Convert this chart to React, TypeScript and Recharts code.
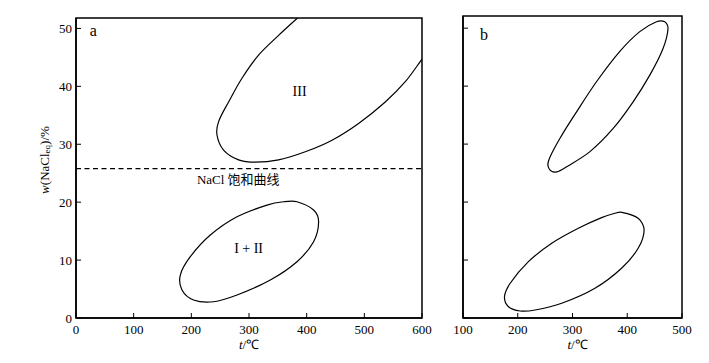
import React from 'react';
import { LineChart, Line, XAxis, YAxis, ReferenceLine, ReferenceArea, ReferenceDot, Label } from 'recharts';

// ---------- data ----------
const tempTicksA = [0, 100, 200, 300, 400, 500, 600];
const tempTicksB = [100, 200, 300, 400, 500];
const salinityTicks = [0, 10, 20, 30, 40, 50];
const naclSaturation = 25.8;

// Panel a — field III (open arc, cut by the frame)
const zoneIII = [
  { t: 384, w: 51.8 }, { t: 351.3, w: 48.8 }, { t: 316.6, w: 45.4 }, { t: 287.8, w: 41.4 },
  { t: 264.6, w: 37.3 }, { t: 247.3, w: 33.9 }, { t: 244.5, w: 31.6 }, { t: 255.9, w: 29.0 },
  { t: 282.0, w: 27.3 }, { t: 310.9, w: 26.9 }, { t: 351.3, w: 27.3 }, { t: 397.6, w: 28.7 },
  { t: 443.9, w: 30.7 }, { t: 490.0, w: 33.6 }, { t: 536.3, w: 37.3 }, { t: 571.0, w: 40.8 },
  { t: 600, w: 44.7 },
];

// Panel a — field I + II
const zoneI_II = [
  { t: 232.9, w: 14.33 }, { t: 279.2, w: 17.48 }, { t: 331.2, w: 19.5 }, { t: 360.0, w: 20.07 },
  { t: 383.2, w: 20.07 }, { t: 412.0, w: 18.64 }, { t: 420.7, w: 16.62 }, { t: 412.0, w: 13.17 },
  { t: 383.2, w: 9.72 }, { t: 336.9, w: 6.56 }, { t: 279.2, w: 3.97 }, { t: 238.6, w: 2.81 },
  { t: 203.9, w: 3.11 }, { t: 183.8, w: 4.83 }, { t: 180.9, w: 7.42 }, { t: 198.2, w: 10.58 },
  { t: 232.9, w: 14.33 },
];

// Panel b — upper field
const bUpper = [
  { t: 307.7, w: 35.6 }, { t: 344.1, w: 40.8 }, { t: 386.5, w: 46.0 }, { t: 422.9, w: 49.4 },
  { t: 453.4, w: 51.1 }, { t: 468.5, w: 51.1 }, { t: 474.5, w: 50.0 }, { t: 465.4, w: 46.5 },
  { t: 441.2, w: 41.9 }, { t: 410.7, w: 37.3 }, { t: 374.3, w: 32.7 }, { t: 331.9, w: 28.7 },
  { t: 289.4, w: 26.1 }, { t: 271.2, w: 25.2 }, { t: 259.0, w: 25.5 }, { t: 255.9, w: 27.0 },
  { t: 277.2, w: 31.0 }, { t: 307.7, w: 35.6 },
];

// Panel b — lower field
const bLower = [
  { t: 262.1, w: 12.89 }, { t: 310.6, w: 15.48 }, { t: 353.2, w: 17.31 }, { t: 377.4, w: 18.07 },
  { t: 389.6, w: 18.24 }, { t: 419.9, w: 17.21 }, { t: 430.8, w: 15.19 }, { t: 419.9, w: 12.03 },
  { t: 389.6, w: 8.58 }, { t: 341.0, w: 5.13 }, { t: 280.3, w: 2.54 }, { t: 231.7, w: 1.38 },
  { t: 204.4, w: 1.21 }, { t: 183.1, w: 1.95 }, { t: 175.8, w: 3.68 }, { t: 186.2, w: 5.99 },
  { t: 219.5, w: 9.72 }, { t: 262.1, w: 12.89 },
];

// ---------- smooth curve through the points (chord-length Catmull-Rom) ----------
function smoothCurve(context: any) {
  let pts: number[][] = [];
  return {
    areaStart() {},
    areaEnd() {},
    lineStart() { pts = []; },
    point(x: number, y: number) { pts.push([+x, +y]); },
    lineEnd() {
      const n0 = pts.length;
      if (n0 === 0) return;
      const first = pts[0];
      const last = pts[n0 - 1];
      const closed = n0 > 3 && Math.hypot(first[0] - last[0], first[1] - last[1]) < 0.5;
      const p = closed ? pts.slice(0, n0 - 1) : pts.slice();
      const n = p.length;
      const get = (i: number) => {
        if (closed) return p[((i % n) + n) % n];
        if (i < 0) return [2 * p[0][0] - p[1][0], 2 * p[0][1] - p[1][1]];
        if (i >= n) return [2 * p[n - 1][0] - p[n - 2][0], 2 * p[n - 1][1] - p[n - 2][1]];
        return p[i];
      };
      const dist = (a: number[], b: number[]) => Math.hypot(a[0] - b[0], a[1] - b[1]) || 1e-6;
      const tangent = (i: number) => {
        const a = get(i - 1), b = get(i), c = get(i + 1);
        const d1 = dist(a, b), d2 = dist(b, c);
        return [(c[0] - a[0]) / (d1 + d2), (c[1] - a[1]) / (d1 + d2)];
      };
      context.moveTo(p[0][0], p[0][1]);
      const segs = closed ? n : n - 1;
      for (let i = 0; i < segs; i++) {
        const a = get(i), b = get(i + 1);
        const d = dist(a, b);
        const ta = tangent(i), tb = tangent(i + 1);
        context.bezierCurveTo(
          a[0] + (ta[0] * d) / 3, a[1] + (ta[1] * d) / 3,
          b[0] - (tb[0] * d) / 3, b[1] - (tb[1] * d) / 3,
          b[0], b[1]
        );
      }
      if (closed) context.closePath();
    },
  };
}

// ---------- styling ----------
const SERIF = '"Liberation Serif", "Times New Roman", serif';
const CJK = '"Liberation Serif", "Noto Sans CJK SC", serif';
const tickStyle = { fontFamily: SERIF, fontSize: 13, fill: '#000' };

const centerText = (value: string, size: number, family: string = SERIF) => (props: any) => {
  const vb = props.viewBox || {};
  const cx = (vb.x || 0) + (vb.width || 0) / 2;
  const cy = (vb.y || 0) + (vb.height || 0) / 2;
  return (
    <text x={cx} y={cy} textAnchor="middle" dominantBaseline="central" fontSize={size} fontFamily={family} fill="#000">
      {value}
    </text>
  );
};

const xAxisLabel = (shift: number) => (props: any) => {
  const vb = props.viewBox || {};
  const cx = vb.x + vb.width / 2 + shift;
  const y = vb.y + 31;
  return (
    <text x={cx} y={y} textAnchor="middle" fontSize={13} fontFamily={SERIF} fill="#000">
      <tspan fontStyle="italic">t</tspan>
      <tspan>/℃</tspan>
    </text>
  );
};

const yAxisLabel = (props: any) => {
  const vb = props.viewBox || {};
  const cx = vb.x + 8;
  const cy = vb.y + vb.height / 2 - 8;
  return (
    <text x={cx} y={cy} transform={`rotate(-90 ${cx} ${cy})`} textAnchor="middle" dominantBaseline="central" fontSize={13} fontFamily={SERIF} fill="#000">
      <tspan fontStyle="italic">w</tspan>
      <tspan>(NaCl</tspan>
      <tspan dy={3} fontSize={9}>eq</tspan>
      <tspan dy={-3}>)/%</tspan>
    </text>
  );
};

const curve = (data: any[], key: string) => (
  <Line
    key={key}
    data={data}
    dataKey="w"
    type={smoothCurve as any}
    stroke="#000"
    strokeWidth={1.2}
    fill="none"
    dot={false}
    activeDot={false}
    isAnimationActive={false}
  />
);

export default function App() {
  return (
    <div style={{ position: 'absolute', left: 0, top: 0, width: 709, height: 363, background: '#fff', fontFamily: SERIF }}>
      <div style={{ position: 'absolute', left: 0, top: 0 }}>
        <LineChart width={440} height={363} margin={{ top: 18, right: 18, bottom: 15, left: 36 }} style={{ fontFamily: SERIF }}>
          <XAxis
            type="number"
            dataKey="t"
            domain={[0, 600]}
            ticks={tempTicksA}
            interval={0}
            allowDataOverflow
            height={30}
            tickSize={-5}
            tickMargin={12}
            tick={tickStyle}
            fontFamily={SERIF}
            fontSize={13}
            stroke="#000"
            axisLine={{ stroke: '#000', strokeWidth: 1.5 }}
            tickLine={{ stroke: '#000' }}
          >
            <Label content={xAxisLabel(0)} />
          </XAxis>
          <YAxis
            type="number"
            domain={[0, 51.8]}
            ticks={salinityTicks}
            interval={0}
            allowDataOverflow
            width={40}
            tickSize={-5}
            tickMargin={9}
            tick={tickStyle}
            fontFamily={SERIF}
            fontSize={13}
            stroke="#000"
            axisLine={{ stroke: '#000', strokeWidth: 1.5 }}
            tickLine={{ stroke: '#000' }}
          >
            <Label content={yAxisLabel} />
          </YAxis>
          <ReferenceArea x1={0} x2={600} y1={0} y2={51.8} fill="none" stroke="#000" strokeWidth={1.5} fillOpacity={0} />
          <ReferenceLine y={naclSaturation} stroke="#000" strokeWidth={1.2} strokeDasharray="5 3.5" />
          {curve(zoneIII, 'III')}
          {curve(zoneI_II, 'I+II')}
          <ReferenceDot x={30} y={49.7} r={0} fill="none" stroke="none" label={centerText('a', 16)} />
          <ReferenceDot x={387.7} y={39.1} r={0} fill="none" stroke="none" label={centerText('III', 14)} />
          <ReferenceDot x={299.3} y={12.0} r={0} fill="none" stroke="none" label={centerText('I + II', 14)} />
          <ReferenceDot x={281.4} y={24.0} r={0} fill="none" stroke="none" label={centerText('NaCl 饱和曲线', 13, CJK)} />
        </LineChart>
      </div>
      <div style={{ position: 'absolute', left: 440, top: 0 }}>
        <LineChart width={269} height={363} margin={{ top: 16, right: 27, bottom: 15, left: 13 }} style={{ fontFamily: SERIF }}>
          <XAxis
            type="number"
            dataKey="t"
            domain={[100, 500]}
            ticks={tempTicksB}
            interval={0}
            allowDataOverflow
            height={30}
            tickSize={-5}
            tickMargin={12}
            tick={tickStyle}
            fontFamily={SERIF}
            fontSize={13}
            stroke="#000"
            axisLine={{ stroke: '#000', strokeWidth: 1.5 }}
            tickLine={{ stroke: '#000' }}
          >
            <Label content={xAxisLabel(5)} />
          </XAxis>
          <YAxis
            type="number"
            domain={[0, 52.1]}
            ticks={salinityTicks}
            interval={0}
            allowDataOverflow
            width={10}
            tickSize={-5}
            tickMargin={9}
            tick={tickStyle}
            tickFormatter={() => ''}
            stroke="#000"
            axisLine={{ stroke: '#000', strokeWidth: 1.5 }}
            tickLine={{ stroke: '#000' }}
          />
          <ReferenceArea x1={100} x2={500} y1={0} y2={52.1} fill="none" stroke="#000" strokeWidth={1.5} fillOpacity={0} />
          {curve(bUpper, 'bUpper')}
          {curve(bLower, 'bLower')}
          <ReferenceDot x={138.4} y={48.9} r={0} fill="none" stroke="none" label={centerText('b', 16)} />
        </LineChart>
      </div>
    </div>
  );
}
